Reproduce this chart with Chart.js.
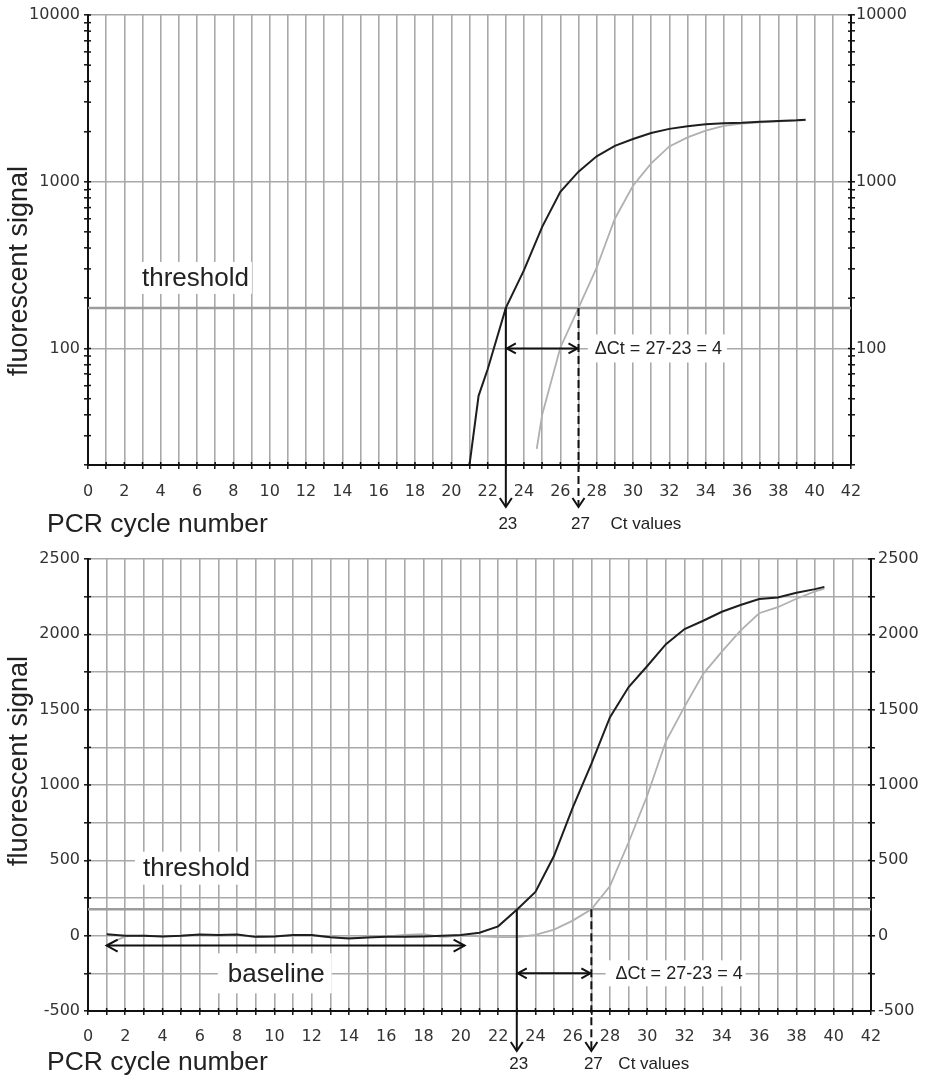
<!DOCTYPE html>
<html><head><meta charset="utf-8">
<script src="https://cdn.jsdelivr.net/npm/chart.js@4.4.1/dist/chart.umd.min.js"></script>
<style>
html,body{margin:0;padding:0;background:#fff;}
#wrap{position:relative;width:926px;height:1076px;overflow:hidden;}
canvas{position:absolute;left:0;}
#c1{top:0;} #c2{top:540px;}
</style></head><body>
<div id="wrap"><canvas id="c1" width="926" height="540"></canvas><canvas id="c2" width="926" height="536"></canvas></div>
<script>
// ---------- data ----------
// Top panel (logarithmic y)
const logCyclesA = [21, 21.5, 22, 23, 24, 25, 26, 27, 28, 29, 30, 31, 32, 33, 34, 35, 36, 37, 38, 39, 39.5];
const logSignalA = [20, 52, 75, 175, 295, 536, 871, 1150, 1420, 1640, 1805, 1960, 2075, 2150, 2210, 2240, 2257, 2293, 2315, 2335, 2355];
const logCyclesB = [24.7, 25, 26, 27, 28, 29, 30, 31, 32, 33, 34, 35, 36, 37, 38, 39, 39.5];
const logSignalB = [25, 40, 101, 175, 305, 600, 946, 1288, 1629, 1845, 2024, 2160, 2230, 2270, 2300, 2325, 2340];

// Bottom panel (linear y)
const linCycles = [1,2,3,4,5,6,7,8,9,10,11,12,13,14,15,16,17,18,19,20,21,22,23,24,25,26,27,28,29,30,31,32,33,34,35,36,37,38,39,39.5];
const linSignalA = [10,0,0,-5,0,8,5,8,-8,-5,5,5,-10,-18,-12,-8,-8,-5,0,5,20,62,172,290,530,850,1140,1450,1650,1790,1935,2035,2090,2150,2195,2235,2245,2276,2300,2315];
const linSignalB = [-60,-5,0,-5,0,5,0,5,-10,-5,0,0,-10,-15,-10,-5,5,10,-10,0,-5,-10,-10,5,40,100,175,330,620,930,1290,1520,1738,1885,2024,2140,2180,2236,2285,2303];

// ticks / labels
const xTickLabels = [0,2,4,6,8,10,12,14,16,18,20,22,24,26,28,30,32,34,36,38,40,42];
const logTickLabels = [100, 1000, 10000];
const linTickLabels = [-500, 0, 500, 1000, 1500, 2000, 2500];
const thresholdValue = 175;
const ctValues = [23, 27];
const deltaLabel = '\u0394Ct = 27-23 = 4';

// ---------- styling ----------
const SANS = '"Liberation Sans", Arial, sans-serif';
const TICKFONT = {family: '"DejaVu Sans", Verdana, sans-serif', size: 16};
const GRID = '#a9a9a9';
const AXIS = '#111';
const TXT = '#222';
const TICKTXT = '#333';

const xMinor = []; for (let i = 0; i <= 42; i++) xMinor.push(i);
const logMinor = []; for (let e = 1; e <= 3; e++) for (let s = 1; s <= 9; s++) { const v = s * Math.pow(10, e); if (v >= 20) logMinor.push(v); } logMinor.push(10000);
const linMinor = []; for (let v = -500; v <= 2500; v += 250) linMinor.push(v);

function xScale(h, pad) {
  return {
    type: 'linear', min: 0, max: 42,
    afterBuildTicks: s => { s.ticks = xMinor.map(v => ({value: v})); },
    ticks: {autoSkip: false, maxRotation: 0, padding: pad, font: TICKFONT, color: TICKTXT,
      callback: v => xTickLabels.includes(v) ? String(v) : ''},
    grid: {color: GRID, lineWidth: 1.6, tickColor: AXIS, tickLength: 4, tickWidth: 1.5},
    border: {color: AXIS, width: 2},
    afterFit: s => { s.height = h; }
  };
}
function yScale(kind, side, width, pad) {
  const isLog = kind === 'log';
  const labels = isLog ? logTickLabels : linTickLabels;
  const minor = isLog ? logMinor : linMinor;
  return {
    type: isLog ? 'logarithmic' : 'linear', position: side,
    min: isLog ? 20 : -500, max: isLog ? 10000 : 2500,
    afterBuildTicks: s => { s.ticks = minor.map(v => ({value: v})); },
    ticks: {autoSkip: false, padding: pad, font: TICKFONT, color: TICKTXT,
      callback: v => labels.includes(v) ? String(v) : ''},
    grid: {
      color: c => (!isLog || (c.tick && labels.includes(c.tick.value))) ? GRID : 'rgba(0,0,0,0)',
      lineWidth: 1.6, tickColor: AXIS, tickLength: 4, tickWidth: 1.5,
      drawOnChartArea: side === 'left'
    },
    border: {color: AXIS, width: 2},
    afterFit: s => { s.width = width; }
  };
}

function line(ctx, x1, y1, x2, y2) { ctx.beginPath(); ctx.moveTo(x1, y1); ctx.lineTo(x2, y2); ctx.stroke(); }
function head(ctx, tx, ty, dx, dy, len, half) {
  const bx = tx - dx * len, by = ty - dy * len, px = -dy, py = dx;
  ctx.beginPath();
  ctx.moveTo(bx + px * half, by + py * half); ctx.lineTo(tx, ty); ctx.lineTo(bx - px * half, by - py * half);
  ctx.stroke();
}

const pcrAnnot = {
  id: 'pcrAnnot',
  beforeDatasetsDraw(chart, args, o) {
    const {ctx, chartArea: a} = chart; const x = chart.scales.x, y = chart.scales.y;
    ctx.save();
    // threshold line
    const ty = y.getPixelForValue(thresholdValue);
    ctx.strokeStyle = '#9c9c9c'; ctx.lineWidth = 2.6;
    line(ctx, a.left, ty, a.right, ty);
    // boxed labels
    o.labels.forEach(l => {
      ctx.font = l.size + 'px ' + SANS;
      const px = x.getPixelForValue(l.x), py = y.getPixelForValue(l.y);
      const w = ctx.measureText(l.text).width;
      ctx.fillStyle = '#fff';
      ctx.fillRect(px - l.padL, py - l.h / 2, w + l.padL + l.padR, l.h);
      ctx.fillStyle = TXT; ctx.textAlign = 'left'; ctx.textBaseline = 'middle';
      ctx.fillText(l.text, px, py + 1);
    });
    ctx.restore();
  },
  afterDraw(chart, args, o) {
    const {ctx, chartArea: a} = chart; const x = chart.scales.x, y = chart.scales.y;
    ctx.save();
    // inner halves of tick marks (ticks cross the axes)
    ctx.strokeStyle = AXIS; ctx.lineWidth = 1.5;
    y.ticks.forEach(t => { const p = y.getPixelForValue(t.value); line(ctx, a.left, p, a.left + 3, p); line(ctx, a.right - 3, p, a.right, p); });
    x.ticks.forEach(t => { const p = x.getPixelForValue(t.value); line(ctx, p, a.bottom - 3, p, a.bottom); });

    ctx.strokeStyle = '#111'; ctx.lineWidth = 2; ctx.lineCap = 'butt';
    const ty = y.getPixelForValue(thresholdValue);
    const xa = x.getPixelForValue(ctValues[0]), xb = x.getPixelForValue(ctValues[1]);
    const tip = a.bottom + o.arrowDrop;
    // solid Ct arrow
    line(ctx, xa, ty, xa, tip); head(ctx, xa, tip, 0, 1, 9, 6);
    // dashed Ct arrow
    ctx.setLineDash([8, 4]); line(ctx, xb, ty, xb, tip - 2); ctx.setLineDash([]);
    head(ctx, xb, tip, 0, 1, 9, 6);
    // delta Ct double arrow
    const dy = y.getPixelForValue(o.deltaY);
    line(ctx, xa + 1, dy, xb - 1, dy);
    head(ctx, xa + 1, dy, -1, 0, 9, 5); head(ctx, xb - 1, dy, 1, 0, 9, 5);
    // baseline arrow
    if (o.baseline) {
      const by = y.getPixelForValue(o.baseline.y);
      const b1 = x.getPixelForValue(o.baseline.from), b2 = x.getPixelForValue(o.baseline.to);
      line(ctx, b1, by, b2, by); head(ctx, b1, by, -1, 0, 11, 6); head(ctx, b2, by, 1, 0, 11, 6);
    }
    // Ct value labels
    ctx.fillStyle = TXT; ctx.textBaseline = 'alphabetic';
    ctx.font = '17px ' + SANS; ctx.textAlign = 'center';
    const cy = a.bottom + o.ctDrop;
    ctx.fillText(String(ctValues[0]), xa + 2, cy);
    ctx.fillText(String(ctValues[1]), xb + 2, cy);
    ctx.textAlign = 'left';
    ctx.fillText('Ct values', xb + o.ctTextOffset, cy);
    // x axis title
    ctx.font = '26.5px ' + SANS;
    ctx.fillText('PCR cycle number', 47, a.bottom + o.titleDrop);
    // y axis title (rotated)
    ctx.save();
    ctx.translate(27, o.yTitleCenter);
    ctx.rotate(-Math.PI / 2);
    ctx.font = '27px ' + SANS; ctx.textAlign = 'center'; ctx.textBaseline = 'alphabetic';
    ctx.fillText('fluorescent signal', 0, 0);
    ctx.restore();
    ctx.restore();
  }
};

function series(cyc, vals) { return cyc.map((c, i) => ({x: c, y: vals[i]})); }

const common = {responsive: false, devicePixelRatio: 1, animation: false, events: [],
  plugins: {legend: {display: false}, tooltip: {enabled: false}}};

new Chart(document.getElementById('c1'), {
  type: 'line',
  data: {datasets: [
    {data: series(logCyclesA, logSignalA), borderColor: '#1e1e1e', borderWidth: 2, pointRadius: 0, tension: 0},
    {data: series(logCyclesB, logSignalB), borderColor: '#b0b0b0', borderWidth: 1.8, pointRadius: 0, tension: 0}
  ]},
  options: Object.assign({}, common, {
    layout: {padding: {top: 15, left: 0, right: 0, bottom: 0}},
    scales: {x: xScale(75, 13), y: yScale('log', 'left', 88, 4), y2: yScale('log', 'right', 75, 1)},
    plugins: Object.assign({}, common.plugins, {pcrAnnot: {
      deltaY: 100, arrowDrop: 42, ctDrop: 64, titleDrop: 67, ctTextOffset: 32, baseline: null, yTitleCenter: 271,
      labels: [
        {text: 'threshold', x: 2.97, y: 265, size: 26, padL: 7, padR: 3, h: 32},
        {text: deltaLabel, x: 27.9, y: 100, size: 18, padL: 7, padR: 5, h: 28}
      ]}})
  }),
  plugins: [pcrAnnot]
});

new Chart(document.getElementById('c2'), {
  type: 'line',
  data: {datasets: [
    {data: series(linCycles, linSignalA), borderColor: '#1e1e1e', borderWidth: 2, pointRadius: 0, tension: 0},
    {data: series(linCycles, linSignalB), borderColor: '#b0b0b0', borderWidth: 1.8, pointRadius: 0, tension: 0}
  ]},
  options: Object.assign({}, common, {
    layout: {padding: {top: 19, left: 0, right: 0, bottom: 0}},
    scales: {x: xScale(65, 12), y: yScale('lin', 'left', 88, 4), y2: yScale('lin', 'right', 55, 3)},
    plugins: Object.assign({}, common.plugins, {pcrAnnot: {
      deltaY: -250, arrowDrop: 40, ctDrop: 58, titleDrop: 59, ctTextOffset: 27, yTitleCenter: 221,
      baseline: {from: 1, to: 20.2, y: -66},
      labels: [
        {text: 'threshold', x: 2.95, y: 448, size: 26, padL: 8, padR: 5, h: 33},
        {text: 'baseline', x: 7.5, y: -250, size: 26, padL: 10, padR: 7, h: 40},
        {text: deltaLabel, x: 28.3, y: -250, size: 18, padL: 10, padR: 3, h: 26}
      ]}})
  }),
  plugins: [pcrAnnot]
});
</script></body></html>
